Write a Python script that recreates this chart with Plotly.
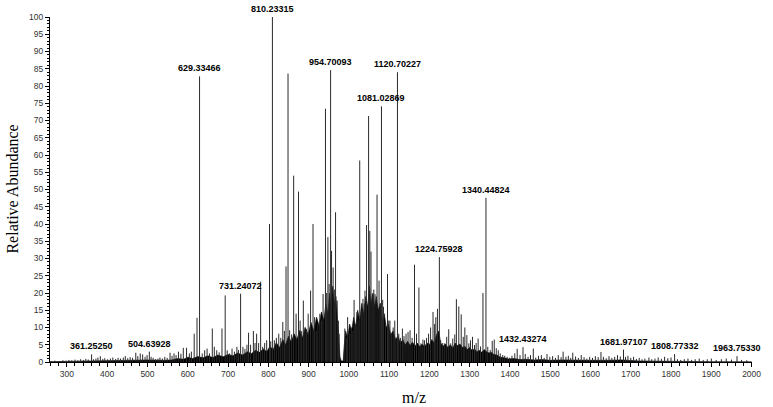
import plotly.graph_objects as go

# ---- peak list (m/z, relative abundance) ----
peak_mz = [262, 270, 281, 290, 298, 305, 312, 320, 327, 334, 341, 347, 353, 361.25, 366, 372, 377, 383, 389, 394,
           401, 408, 414, 421, 427, 433, 440, 445, 451, 457, 463, 471, 476, 482, 488, 494, 499, 504.64, 509, 514,
           520, 526, 531, 537, 543, 549, 556, 561, 566, 571, 577, 583, 589, 597, 604, 609, 616, 623, 629.33, 636,
           642, 648, 654, 661, 666, 672, 678, 685, 693, 698, 704, 710, 716, 722, 726, 731.24, 737, 742, 747, 751,
           756, 763, 767, 771, 776, 781, 786, 791, 796, 803, 806, 810.23, 815, 820, 826, 831, 836, 840, 844, 849,
           853, 858, 863, 869, 875, 879, 883, 887, 891, 895, 899, 905, 911, 915, 919, 923, 928, 932, 936, 942,
           945, 948, 951, 954.70, 957, 961, 964, 967, 971, 974, 976, 990, 994, 997, 1002, 1006, 1010, 1013, 1017, 1020,
           1023, 1027, 1031, 1035, 1038, 1040, 1044, 1049, 1052, 1055, 1058, 1062, 1065, 1070, 1075, 1078, 1081.03, 1084, 1086, 1091,
           1096, 1099, 1102, 1106, 1110, 1114, 1117, 1120.70, 1124, 1128, 1133, 1137, 1142, 1147, 1152, 1157, 1163, 1168,
           1174, 1179, 1184, 1188, 1193, 1198, 1203, 1209, 1213, 1216, 1220, 1224.76, 1228, 1233, 1238, 1243, 1248, 1253,
           1258, 1263, 1267, 1273, 1279, 1284, 1288, 1293, 1298, 1302, 1307, 1312, 1316, 1321, 1327, 1333, 1340.45, 1345,
           1351, 1356, 1361, 1366, 1371, 1376, 1382, 1387, 1393, 1399, 1405, 1412, 1418, 1425, 1432.43, 1438, 1445, 1451,
           1458, 1464, 1471, 1478, 1485, 1492, 1499, 1506, 1513, 1520, 1527, 1532, 1539, 1545, 1551, 1556, 1563, 1570,
           1577, 1584, 1591, 1598, 1605, 1612, 1619, 1626, 1632, 1639, 1646, 1653, 1660, 1667, 1674, 1681.97, 1687, 1693,
           1700, 1707, 1714, 1721, 1728, 1735, 1745, 1752, 1760, 1768, 1776, 1784, 1792, 1800, 1808.77, 1816, 1824, 1833,
           1842, 1851, 1860, 1870, 1880, 1890, 1900, 1912, 1925, 1937, 1950, 1963.75, 1975, 1988]
peak_int = [0.3, 0.4, 0.3, 0.5, 0.4, 0.6, 0.5, 0.7, 0.5, 0.8, 0.6, 0.9, 0.7, 2.2, 0.8, 1.0, 1.3, 1.7, 0.9, 1.1,
            0.8, 1.0, 1.3, 0.9, 1.2, 1.0, 1.3, 1.7, 1.1, 1.4, 1.2, 2.7, 1.7, 2.5, 2.2, 1.5, 2.0, 3.0, 1.5, 1.2,
            0.8, 1.0, 1.3, 1.0, 1.5, 1.2, 2.7, 1.8, 2.5, 2.0, 3.0, 2.4, 4.1, 4.1, 2.5, 3.0, 8.2, 12.8, 82.8, 2.5,
            3.4, 3.9, 2.5, 9.7, 4.4, 3.4, 2.8, 9.7, 19.3, 3.4, 2.5, 3.9, 3.0, 4.4, 3.5, 19.8, 4.4, 3.8, 5.0, 8.5,
            5.0, 9.0, 5.5, 8.2, 5.5, 23.3, 4.4, 5.5, 6.3, 40.0, 6.0, 100.0, 6.3, 7.0, 8.2, 7.0, 11.6, 9.0, 27.7, 83.6,
            9.2, 8.0, 54.0, 14.0, 49.4, 12.0, 9.0, 17.8, 10.0, 9.5, 14.0, 20.7, 40.0, 13.0, 9.0, 11.0, 14.0, 12.0, 19.7, 73.4,
            20.0, 36.2, 22.6, 84.6, 32.2, 27.4, 21.0, 43.4, 17.8, 12.0, 8.2, 9.7, 7.0, 13.0, 8.2, 10.0, 9.0, 18.0, 11.0, 14.5,
            12.0, 58.4, 15.0, 18.3, 16.9, 20.7, 39.7, 71.3, 38.0, 32.0, 19.7, 21.0, 19.7, 48.5, 23.6, 17.0, 74.1, 18.0, 16.0, 11.0,
            25.5, 12.0, 12.0, 8.2, 10.0, 12.0, 7.0, 84.0, 8.2, 7.0, 9.7, 7.5, 8.2, 8.7, 9.2, 7.0, 28.2, 8.2,
            21.6, 5.4, 6.5, 6.3, 7.0, 8.2, 10.0, 14.5, 11.0, 13.0, 15.4, 30.4, 6.3, 5.5, 5.4, 7.3, 9.5, 5.4,
            6.8, 8.0, 18.2, 16.1, 13.8, 7.3, 10.0, 7.8, 5.4, 6.3, 7.3, 4.9, 5.5, 6.8, 4.5, 20.0, 47.6, 4.4,
            3.5, 6.1, 6.5, 4.0, 3.4, 2.5, 2.0, 1.8, 1.5, 1.2, 1.8, 2.5, 3.8, 2.0, 4.3, 2.3, 1.5, 2.0,
            3.9, 1.3, 1.8, 2.0, 1.2, 2.3, 1.5, 1.7, 1.2, 2.0, 1.4, 3.0, 1.5, 1.8, 1.2, 2.7, 1.6, 1.2,
            2.0, 1.4, 1.0, 1.5, 1.2, 1.7, 1.4, 2.9, 1.5, 1.1, 1.7, 1.2, 1.5, 2.0, 1.6, 3.6, 1.5, 1.8,
            1.2, 1.5, 0.9, 1.2, 0.8, 1.0, 1.3, 0.8, 1.0, 1.3, 0.9, 1.5, 1.1, 1.3, 2.3, 0.8, 0.6, 0.8,
            1.0, 0.6, 0.8, 1.0, 0.6, 0.8, 1.0, 0.6, 0.8, 1.0, 0.7, 1.7, 0.6, 0.5]

# ---- dense baseline "grass" envelope ----
env_mz = [258, 300, 350, 400, 450, 500, 540, 560, 575, 590, 600, 612, 625, 638, 650, 662, 675, 688, 700, 712,
          724, 736, 748, 758, 768, 778, 788, 796, 804, 812, 820, 828, 836, 843, 850, 857, 864, 871, 878, 885,
          892, 899, 906, 913, 920, 926, 932, 938, 943, 948, 952, 956, 960, 964, 968, 972, 975, 978, 981, 986,
          988, 992, 997, 1002, 1007, 1012, 1017, 1022, 1027, 1032, 1037, 1042, 1047, 1051, 1055, 1060, 1064, 1068, 1073, 1078,
          1083, 1088, 1093, 1098, 1104, 1110, 1116, 1122, 1128, 1134, 1140, 1146, 1152, 1158, 1164, 1170, 1176, 1182, 1188, 1194,
          1200, 1206, 1212, 1218, 1223, 1228, 1234, 1240, 1246, 1252, 1258, 1264, 1270, 1276, 1282, 1288, 1294, 1300, 1306, 1312,
          1318, 1324, 1330, 1336, 1342, 1348, 1354, 1360, 1368, 1376, 1386, 1396, 1410, 1425, 1440, 1460, 1480, 1500, 1530, 1560,
          1600, 1640, 1680, 1720, 1760, 1800, 1850, 1900, 2000]
env_int = [0.1, 0.2, 0.3, 0.4, 0.5, 0.6, 0.5, 0.6, 1.0, 0.8, 1.4, 1.0, 1.6, 1.2, 1.8, 1.3, 2.0, 1.5, 2.2, 1.8,
           2.6, 2.0, 3.0, 2.4, 3.4, 2.8, 3.8, 3.0, 4.5, 3.6, 5.6, 4.2, 6.5, 5.0, 7.5, 5.8, 8.2, 6.5, 9.2, 7.0,
           10.0, 8.0, 11.5, 9.0, 13.0, 10.5, 14.5, 12.0, 17.0, 14.0, 20.0, 16.0, 22.0, 17.0, 19.0, 12.0, 7.0, 1.5, 0.3, 0.3,
           4.0, 9.0, 7.0, 11.0, 9.0, 13.0, 10.0, 15.0, 12.0, 17.0, 14.0, 19.0, 16.0, 22.0, 17.0, 20.0, 16.0, 19.0, 15.0, 17.0,
           12.0, 14.0, 10.0, 11.0, 8.0, 9.0, 6.5, 7.5, 5.5, 6.5, 5.0, 6.0, 4.8, 5.8, 4.6, 5.5, 4.4, 5.2, 4.5, 5.5,
           5.0, 6.5, 5.5, 8.0, 9.0, 5.5, 4.6, 5.2, 4.2, 5.0, 4.0, 5.5, 4.8, 5.2, 4.2, 4.6, 3.6, 4.2, 3.4, 3.8,
           3.0, 3.4, 2.8, 3.6, 3.0, 2.6, 2.8, 2.2, 2.0, 1.4, 1.2, 0.9, 1.0, 0.7, 0.8, 0.6, 0.7, 0.5, 0.6, 0.5,
           0.5, 0.5, 0.6, 0.3, 0.3, 0.3, 0.2, 0.1, 0.05]

# ---- labelled peaks ----
label_mz = [361.25, 504.64, 629.33, 731.24, 810.23, 954.70, 1081.03, 1120.70, 1224.76, 1340.45, 1432.43, 1681.97, 1808.77, 1963.75]
label_int = [2.2, 3.0, 82.8, 19.8, 100.0, 84.6, 74.1, 84.0, 30.4, 47.6, 4.3, 3.6, 2.3, 1.7]
label_txt = ["361.25250", "504.63928", "629.33466", "731.24072", "810.23315", "954.70093", "1081.02869",
             "1120.70227", "1224.75928", "1340.44824", "1432.43274", "1681.97107", "1808.77332", "1963.75330"]

# build stick coordinates from the peak lists
sx, sy = [], []
for m, h in zip(peak_mz, peak_int):
    sx += [m, m, None]
    sy += [0, h, None]

fig = go.Figure()
fig.add_trace(go.Scatter(x=env_mz, y=env_int, mode="lines", fill="tozeroy",
                         line=dict(color="#000000", width=0.6), fillcolor="#000000",
                         hoverinfo="skip"))
fig.add_trace(go.Scatter(x=sx, y=sy, mode="lines", line=dict(color="#2a2a2a", width=1),
                         hoverinfo="skip"))

for m, h, t in zip(label_mz, label_int, label_txt):
    fig.add_annotation(x=m, y=h, xref="x", yref="y", text="<b>%s</b>" % t, showarrow=False,
                       yanchor="bottom", xanchor="center", yshift=1,
                       font=dict(family="Arial, Liberation Sans", size=9, color="#000000"))

fig.add_annotation(x=-0.054, y=0.5, xref="paper", yref="paper", text="Relative Abundance",
                   textangle=-90, showarrow=False, xanchor="center", yanchor="middle",
                   font=dict(family="Liberation Serif, Times New Roman", size=16, color="#000000"))
fig.add_annotation(x=0.518, y=-0.103, xref="paper", yref="paper", text="m/z",
                   showarrow=False, xanchor="center", yanchor="middle",
                   font=dict(family="Liberation Serif, Times New Roman", size=16, color="#000000"))

axis_font = dict(family="Arial, Liberation Sans", size=8.5, color="#333333")
fig.update_xaxes(range=[258, 2001], showgrid=False, zeroline=False, showline=True, linecolor="#000000",
                 linewidth=1, ticks="outside", tickcolor="#000000", ticklen=4, tickwidth=1,
                 tick0=0, dtick=100, tickfont=axis_font,
                 minor=dict(ticks="outside", dtick=20, tick0=0, ticklen=2.5, tickcolor="#000000"))
fig.update_yaxes(range=[0, 100], showgrid=False, zeroline=False, showline=True, linecolor="#000000",
                 linewidth=1, ticks="outside", tickcolor="#000000", ticklen=4, tickwidth=1,
                 tick0=0, dtick=5, tickfont=axis_font,
                 minor=dict(ticks="outside", dtick=1, tick0=0, ticklen=2.5, tickcolor="#000000"))
fig.update_layout(width=773, height=407, margin=dict(l=50, r=15, t=14, b=45),
                  plot_bgcolor="#ffffff", paper_bgcolor="#ffffff", showlegend=False,
                  hovermode=False)

fig.write_html("out.html", config={"displayModeBar": False},
               post_script="document.body.style.margin='0';")
